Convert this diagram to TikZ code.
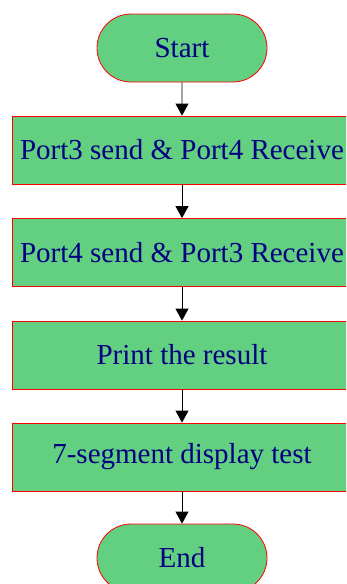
\documentclass[tikz,border=0pt]{standalone}
\usepackage{fontspec}
\setmainfont{Liberation Serif}
\usetikzlibrary{arrows.meta,shapes.misc}
\definecolor{boxgreen}{RGB}{99,207,128}
\definecolor{navytext}{RGB}{0,0,128}
\tikzset{
  procbox/.style={draw=red, fill=boxgreen, line width=0.8pt, rectangle,
    minimum width=340pt, minimum height=68pt, inner sep=0pt, text=navytext,
    font=\fontsize{29}{31}\selectfont},
  termbox/.style={procbox, rounded rectangle, minimum width=170pt},
  flowarrow/.style={draw=black, line width=0.8pt, -{Triangle[length=12pt,width=13pt]}}
}
\begin{document}
\begin{tikzpicture}[x=1pt,y=-1pt]
\useasboundingbox (0,0) rectangle (346,584);
\clip (0,0) rectangle (346,584);
\node[termbox] (start) at (182,48) {Start};
\node[procbox] (b1) at (182,150) {Port3 send \& Port4 Receive};
\node[procbox] (b2) at (182,252.5) {Port4 send \& Port3 Receive};
\node[procbox] (b3) at (182,355) {Print the result};
\node[procbox] (b4) at (182,457) {7-segment display test};
\node[termbox] (end) at (182,558) {End};
\draw[flowarrow] (start) -- (b1);
\draw[flowarrow] (b1) -- (b2);
\draw[flowarrow] (b2) -- (b3);
\draw[flowarrow] (b3) -- (b4);
\draw[flowarrow] (b4) -- (end);
\end{tikzpicture}
\end{document}
